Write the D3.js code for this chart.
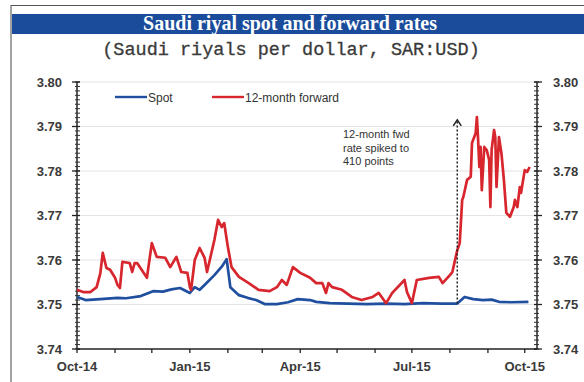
<!DOCTYPE html>
<html>
<head>
<meta charset="utf-8">
<script src="https://cdn.jsdelivr.net/npm/d3@7"></script>
<style>
  html, body { margin: 0; padding: 0; background: #fff; }
  svg { display: block; }
</style>
</head>
<body>
<script>
// Saudi riyal spot vs 12-month forward, SAR per USD
const spotDates = ["2014-10-01","2014-10-08","2014-10-20","2014-11-03","2014-11-10","2014-11-22","2014-12-02","2014-12-10","2014-12-17","2014-12-24","2015-01-01","2015-01-05","2015-01-09","2015-01-13","2015-01-21","2015-01-27","2015-01-31","2015-02-03","2015-02-10","2015-02-17","2015-02-24","2015-03-03","2015-03-13","2015-03-22","2015-03-30","2015-04-09","2015-04-14","2015-04-25","2015-05-10","2015-05-25","2015-06-10","2015-06-25","2015-07-10","2015-07-25","2015-08-07","2015-08-13","2015-08-20","2015-08-28","2015-09-04","2015-09-10","2015-09-20","2015-10-04"];
const spotValues = [3.7517,3.7510,3.7512,3.7515,3.7514,3.7519,3.7530,3.7529,3.7534,3.7537,3.7526,3.7539,3.7533,3.7544,3.7566,3.7585,3.7602,3.7539,3.7521,3.7515,3.7510,3.7501,3.7501,3.7505,3.7512,3.7510,3.7506,3.7503,3.7502,3.7501,3.7502,3.7501,3.7503,3.7502,3.7502,3.7517,3.7512,3.7510,3.7511,3.7506,3.7505,3.7506];

const fwdDates = ["2014-10-01","2014-10-06","2014-10-12","2014-10-17","2014-10-20","2014-10-22","2014-10-25","2014-10-28","2014-11-01","2014-11-03","2014-11-05","2014-11-07","2014-11-13","2014-11-15","2014-11-17","2014-11-19","2014-11-27","2014-12-01","2014-12-05","2014-12-12","2014-12-16","2014-12-21","2014-12-25","2014-12-30","2015-01-01","2015-01-02","2015-01-05","2015-01-09","2015-01-13","2015-01-15","2015-01-21","2015-01-24","2015-01-27","2015-01-29","2015-02-01","2015-02-04","2015-02-10","2015-02-18","2015-02-26","2015-03-07","2015-03-13","2015-03-17","2015-03-21","2015-03-26","2015-04-01","2015-04-09","2015-04-14","2015-04-19","2015-04-22","2015-04-24","2015-04-27","2015-05-05","2015-05-13","2015-05-21","2015-05-30","2015-06-04","2015-06-10","2015-06-15","2015-06-25","2015-06-27","2015-07-01","2015-07-05","2015-07-15","2015-07-23","2015-07-26","2015-08-01","2015-08-03","2015-08-07","2015-08-09","2015-08-11","2015-08-12","2015-08-15","2015-08-18","2015-08-19","2015-08-22","2015-08-23","2015-08-24","2015-08-25","2015-08-26","2015-08-27","2015-08-29","2015-08-31","2015-09-02","2015-09-03","2015-09-04","2015-09-06","2015-09-07","2015-09-08","2015-09-10","2015-09-12","2015-09-14","2015-09-16","2015-09-19","2015-09-22","2015-09-23","2015-09-25","2015-09-27","2015-09-28","2015-10-01","2015-10-03","2015-10-05"];
const fwdValues = [3.7533,3.7528,3.7528,3.7539,3.7570,3.7616,3.7582,3.7578,3.7560,3.7544,3.7537,3.7596,3.7593,3.7573,3.7593,3.7593,3.7560,3.7638,3.7607,3.7605,3.7584,3.7607,3.7573,3.7571,3.7539,3.7533,3.7600,3.7627,3.7605,3.7573,3.7645,3.7690,3.7674,3.7683,3.7629,3.7584,3.7562,3.7548,3.7533,3.7530,3.7539,3.7555,3.7544,3.7584,3.7571,3.7560,3.7548,3.7548,3.7526,3.7548,3.7539,3.7533,3.7517,3.7510,3.7517,3.7526,3.7503,3.7526,3.7555,3.7528,3.7503,3.7555,3.7560,3.7562,3.7548,3.7566,3.7573,3.7622,3.7638,3.7735,3.7742,3.7780,3.7787,3.7863,3.7885,3.7921,3.7870,3.7809,3.7854,3.7757,3.7854,3.7847,3.7825,3.7719,3.7847,3.7892,3.7876,3.7764,3.7876,3.7840,3.7780,3.7706,3.7697,3.7719,3.7735,3.7719,3.7764,3.7751,3.7802,3.7798,3.7809];

const yTicks = [3.74, 3.75, 3.76, 3.77, 3.78, 3.79, 3.80];
const xTickLabels = ["Oct-14", "Jan-15", "Apr-15", "Jul-15", "Oct-15"];
const seriesNames = ["Spot", "12-month forward"];
const noteLines = ["12-month fwd", "rate spiked to", "410 points"];
const noteDate = "2015-08-07";
const noteFrom = 3.7502, noteTo = 3.7915;

const W = 584, H = 382;
const parse = d3.timeParse("%Y-%m-%d");
const spot = spotDates.map((d, i) => ({ date: parse(d), value: spotValues[i] }));
const fwd = fwdDates.map((d, i) => ({ date: parse(d), value: fwdValues[i] }));

const svg = d3.select("body").append("svg").attr("width", W).attr("height", H);

// frame and title band
svg.append("line").attr("x1", 11).attr("x2", W).attr("y1", 5.5).attr("y2", 5.5)
  .attr("stroke", "#555").attr("stroke-width", 1.2);
svg.append("line").attr("x1", 11).attr("x2", 11).attr("y1", 5).attr("y2", H)
  .attr("stroke", "#666").attr("stroke-width", 1.2);
svg.append("rect").attr("x", 12).attr("y", 14).attr("width", W - 12).attr("height", 20)
  .attr("fill", "#1a4c9b");
svg.append("text").attr("x", 290).attr("y", 30).attr("text-anchor", "middle")
  .attr("font-family", "'Liberation Serif', 'Times New Roman', serif")
  .attr("font-weight", "bold").attr("font-size", 20).attr("fill", "#fff")
  .text("Saudi riyal spot and forward rates");
svg.append("text").attr("x", 291).attr("y", 55).attr("text-anchor", "middle")
  .attr("font-family", "'Liberation Mono', 'Courier New', monospace")
  .attr("font-size", 18.5).attr("fill", "#3a3a3a").attr("stroke", "#3a3a3a").attr("stroke-width", 0.3)
  .text("(Saudi riyals per dollar, SAR:USD)");

const x0 = 77, x1 = 537, y0 = 349, y1 = 82;
const x = d3.scaleTime().domain([parse("2014-10-01"), parse("2015-10-11")]).range([x0, x1]);
const y = d3.scaleLinear().domain([3.74, 3.80]).range([y0, y1]);

// gridlines
svg.append("g").selectAll("line").data(yTicks.filter(v => v > 3.74)).join("line")
  .attr("x1", x0).attr("x2", x1)
  .attr("y1", d => y(d)).attr("y2", d => y(d))
  .attr("stroke", "#e3e3e3").attr("stroke-width", 1);

const minor = d3.range(3.740, 3.8001, 0.001);
const labelFont = "'Liberation Sans', Arial, sans-serif";

// left axis
const left = svg.append("g");
left.append("line").attr("x1", x0).attr("x2", x0).attr("y1", y1).attr("y2", y0)
  .attr("stroke", "#222").attr("stroke-width", 1.5);
left.selectAll("line.mn").data(minor).join("line").attr("class", "mn")
  .attr("x1", x0 - 2).attr("x2", x0 + 3).attr("y1", d => y(d)).attr("y2", d => y(d))
  .attr("stroke", "#333").attr("stroke-width", 1);
left.selectAll("line.mj").data(yTicks).join("line").attr("class", "mj")
  .attr("x1", x0 - 5).attr("x2", x0 + 3).attr("y1", d => y(d)).attr("y2", d => y(d))
  .attr("stroke", "#222").attr("stroke-width", 1.3);
left.selectAll("text").data(yTicks).join("text")
  .attr("x", 62).attr("y", d => y(d) + 4.5).attr("text-anchor", "end")
  .attr("font-family", labelFont).attr("font-size", 13).attr("font-weight", "bold")
  .attr("fill", "#3a3a3a").text(d => d3.format(".2f")(d));

// right axis
const right = svg.append("g");
right.append("line").attr("x1", x1).attr("x2", x1).attr("y1", y1).attr("y2", y0)
  .attr("stroke", "#222").attr("stroke-width", 1.5);
right.selectAll("line.mn").data(minor).join("line").attr("class", "mn")
  .attr("x1", x1 - 3).attr("x2", x1 + 2).attr("y1", d => y(d)).attr("y2", d => y(d))
  .attr("stroke", "#333").attr("stroke-width", 1);
right.selectAll("line.mj").data(yTicks).join("line").attr("class", "mj")
  .attr("x1", x1 - 3).attr("x2", x1 + 5).attr("y1", d => y(d)).attr("y2", d => y(d))
  .attr("stroke", "#222").attr("stroke-width", 1.3);
right.selectAll("text").data(yTicks).join("text")
  .attr("x", 553).attr("y", d => y(d) + 4.5).attr("text-anchor", "start")
  .attr("font-family", labelFont).attr("font-size", 13).attr("font-weight", "bold")
  .attr("fill", "#3a3a3a").text(d => d3.format(".2f")(d));

// bottom axis
const months = d3.timeMonth.range(parse("2014-10-01"), parse("2015-10-02"));
const bottom = svg.append("g");
bottom.append("line").attr("x1", x0).attr("x2", x1).attr("y1", y0).attr("y2", y0)
  .attr("stroke", "#222").attr("stroke-width", 1.5);
bottom.selectAll("line.t").data(months).join("line").attr("class", "t")
  .attr("x1", d => x(d)).attr("x2", d => x(d)).attr("y1", y0).attr("y2", y0 + 4)
  .attr("stroke", "#222").attr("stroke-width", 1.3);
const quarterly = months.filter(d => d.getMonth() % 3 === 0);
bottom.selectAll("text").data(quarterly).join("text")
  .attr("x", d => x(d)).attr("y", 371).attr("text-anchor", "middle")
  .attr("font-family", labelFont).attr("font-size", 13).attr("font-weight", "bold")
  .attr("fill", "#3a3a3a").text((d, i) => xTickLabels[i]);

// series lines
const line = d3.line().x(d => x(d.date)).y(d => y(d.value));
const colors = ["#1f4f9e", "#d7262d"];
svg.append("path").datum(spot).attr("d", line).attr("fill", "none")
  .attr("stroke", colors[0]).attr("stroke-width", 2.7).attr("stroke-linejoin", "round");
svg.append("path").datum(fwd).attr("d", line).attr("fill", "none")
  .attr("stroke", colors[1]).attr("stroke-width", 2.7).attr("stroke-linejoin", "round");

// annotation arrow
const nx = x(parse(noteDate));
svg.append("line").attr("x1", nx).attr("x2", nx).attr("y1", y(noteFrom)).attr("y2", y(noteTo))
  .attr("stroke", "#222").attr("stroke-width", 1.5).attr("stroke-dasharray", "2,2");
svg.append("path")
  .attr("d", `M${nx - 4},${y(noteTo) + 6} L${nx},${y(noteTo)} L${nx + 4},${y(noteTo) + 6}`)
  .attr("fill", "none").attr("stroke", "#222").attr("stroke-width", 1.5);
svg.append("g").selectAll("text").data(noteLines).join("text")
  .attr("x", 343).attr("y", (d, i) => 138 + i * 13.5)
  .attr("font-family", labelFont).attr("font-size", 11).attr("fill", "#333")
  .text(d => d);

// legend
const legendX = [115, 212];
const lg = svg.append("g");
seriesNames.forEach((name, i) => {
  lg.append("line").attr("x1", legendX[i]).attr("x2", legendX[i] + 32)
    .attr("y1", 97).attr("y2", 97).attr("stroke", colors[i]).attr("stroke-width", 2.4);
  lg.append("text").attr("x", legendX[i] + 33).attr("y", 101.5)
    .attr("font-family", labelFont).attr("font-size", 12).attr("fill", "#333")
    .text(name);
});
</script>
</body>
</html>
